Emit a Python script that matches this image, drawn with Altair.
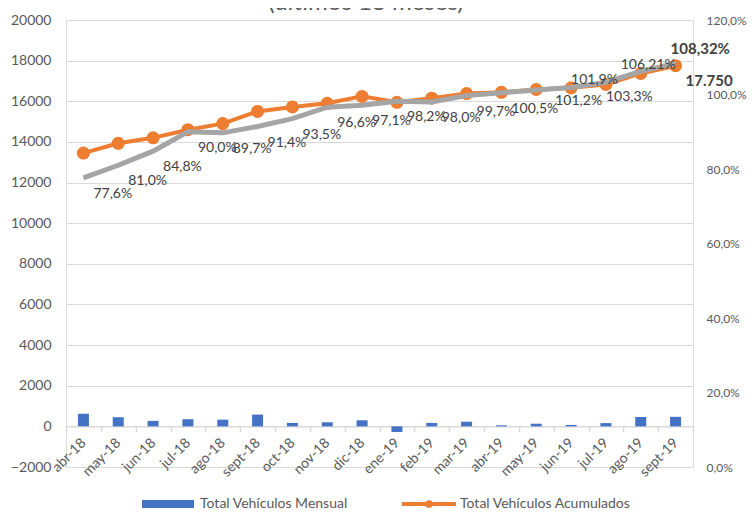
import altair as alt
import pandas as pd

months = ["abr-18", "may-18", "jun-18", "jul-18", "ago-18", "sept-18", "oct-18", "nov-18", "dic-18",
          "ene-19", "feb-19", "mar-19", "abr-19", "may-19", "jun-19", "jul-19", "ago-19", "sept-19"]
mensual = [620, 450, 270, 350, 330, 580, 170, 200, 300, -280, 170, 230, 50, 130, 70, 160, 460, 470]
acumulado = [13450, 13930, 14200, 14600, 14900, 15500, 15720, 15900, 16240,
             15950, 16150, 16380, 16440, 16580, 16660, 16830, 17370, 17750]
pct = [77.6, 81.0, 84.8, 90.0, 89.7, 91.4, 93.5, 96.6, 97.1,
       98.2, 98.0, 99.7, 100.5, 101.2, 101.9, 103.3, 106.21, 108.32]
pct_labels = ["77,6%", "81,0%", "84,8%", "90,0%", "89,7%", "91,4%", "93,5%", "96,6%", "97,1%",
              "98,2%", "98,0%", "99,7%", "100,5%", "101,2%", "101,9%", "103,3%", "106,21%", "108,32%"]
title_text = "(últimos 18 meses)"
legend_bar = "Total Vehículos Mensual"
legend_line = "Total Vehículos Acumulados"

df = pd.DataFrame({"mes": months, "mensual": mensual, "acumulado": acumulado,
                   "pct": pct, "pct_label": pct_labels})

FONT = "Lato"
GRID = "#d9d9d9"
TXT = "#595959"
LBL = "#404040"
BLUE = "#4472c4"
ORANGE = "#ed7d31"
GRAY = "#a5a5a5"

W, H = 627, 447
zero_offset = -(H - H * 20000 / 22000)

X = alt.X("mes:N", sort=months, title=None,
          scale=alt.Scale(paddingInner=0, paddingOuter=0),
          axis=alt.Axis(orient="bottom", offset=zero_offset, labelAngle=-45,
                        labelAlign="right", labelBaseline="middle",
                        labelFont=FONT, labelFontSize=14, labelColor=TXT, labelPadding=9,
                        domainColor=GRID, domainWidth=1.5, tickColor=GRID, tickWidth=1.5,
                        tickSize=5, tickBand="extent", grid=False))

left_axis = alt.Axis(orient="left", values=list(range(-2000, 20001, 2000)), format="d",
                     labelFont=FONT, labelFontSize=14, labelColor=TXT, labelPadding=15,
                     domain=False, ticks=False, grid=True, gridColor=GRID, gridWidth=1)
left_scale = alt.Scale(domain=[-2000, 20000], nice=False, zero=False)

YL = alt.Y("acumulado:Q", title=None, scale=left_scale, axis=left_axis)

base = alt.Chart(df)

bars = base.mark_bar(width=11, color=BLUE).encode(
    x=X,
    y=alt.Y("mensual:Q", title=None, scale=left_scale, axis=left_axis),
)
oline = base.mark_line(color=ORANGE, strokeWidth=4).encode(x=X, y=YL)
opts = base.mark_point(color=ORANGE, filled=True, opacity=1, size=170).encode(x=X, y=YL)
lab17750 = base.transform_filter(alt.datum.mes == "sept-19").transform_calculate(
    t="replace(format(datum.acumulado, ','), ',', '.')"
).mark_text(align="left", baseline="middle", dx=10, dy=15, font=FONT, fontSize=15,
            fontWeight="bold", color=LBL).encode(x=X, y=YL, text="t:N")

title = alt.Chart(pd.DataFrame({"t": [title_text]})).mark_text(
    font=FONT, fontSize=24, color=TXT, align="center", baseline="alphabetic"
).encode(x=alt.value(300), y=alt.value(-10), text="t:N")

leg_df = pd.DataFrame({"a": [legend_bar], "b": [legend_line]})
leg_rect = alt.Chart(leg_df).mark_rect(color=BLUE).encode(
    x=alt.value(76), x2=alt.value(128), y=alt.value(480), y2=alt.value(488))
leg_t1 = alt.Chart(leg_df).mark_text(align="left", baseline="middle", font=FONT, fontSize=14,
                                     color=TXT).encode(x=alt.value(134), y=alt.value(484), text="a:N")
leg_rule = alt.Chart(leg_df).mark_rule(color=ORANGE, strokeWidth=4).encode(
    x=alt.value(336), x2=alt.value(390), y=alt.value(484))
leg_pt = alt.Chart(leg_df).mark_point(color=ORANGE, filled=True, opacity=1, size=60).encode(
    x=alt.value(363), y=alt.value(484))
leg_t2 = alt.Chart(leg_df).mark_text(align="left", baseline="middle", font=FONT, fontSize=14,
                                     color=TXT).encode(x=alt.value(394), y=alt.value(484), text="b:N")

left = alt.layer(bars, oline, opts, lab17750, title, leg_rect, leg_t1, leg_rule, leg_pt, leg_t2)

YR = alt.Y("pct:Q", title=None,
           scale=alt.Scale(domain=[0, 120], nice=False, zero=False),
           axis=alt.Axis(orient="right", values=list(range(0, 121, 20)),
                         labelExpr="replace(format(datum.value, '.1f'), '.', ',') + '%'",
                         labelFont=FONT, labelFontSize=12, labelColor=TXT, labelPadding=13,
                         domain=False, ticks=False, grid=False))

gray = base.mark_line(color=GRAY, strokeWidth=5).encode(x=X, y=YR)


def pct_text(sel, dx, dy, bold=False, size=14):
    return base.transform_filter(alt.FieldOneOfPredicate(field="mes", oneOf=sel)).mark_text(
        align="left", baseline="middle", dx=dx, dy=dy, font=FONT, fontSize=size,
        fontWeight="bold" if bold else "normal", color=LBL
    ).encode(x=X, y=YR, text="pct_label:N")


special = ["may-19", "jun-19", "jul-19", "ago-19", "sept-19"]
main = [m for m in months if m not in special]
labels = alt.layer(
    pct_text(main, 10, 16),
    pct_text(["may-19"], 19, 11),
    pct_text(["jun-19"], 0, -7),
    pct_text(["jul-19"], 0, 15),
    pct_text(["ago-19"], -20, -6),
    pct_text(["sept-19"], -5, -15, bold=True, size=15),
)

right = alt.layer(gray, labels)

chart = alt.layer(left, right).resolve_scale(y="independent").properties(
    width=W, height=H,
    padding={"left": 58, "top": 12, "right": 55, "bottom": 45},
    autosize=alt.AutoSizeParams(type="none"),
).configure_view(stroke=None).configure(background="white")

chart.save("out.html", embed_options={"renderer": "svg", "actions": False})
